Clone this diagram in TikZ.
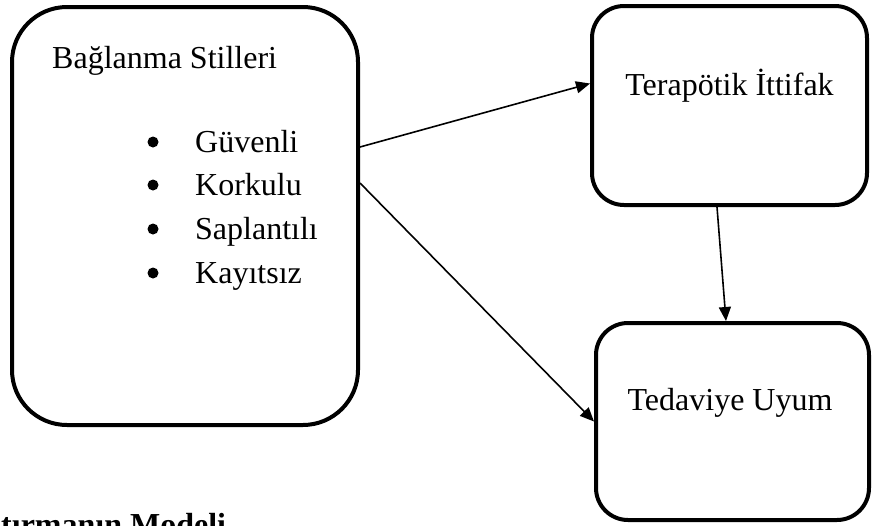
\documentclass[tikz,border=0pt]{standalone}
\usepackage{fontspec}
\setmainfont{Liberation Serif}
\usetikzlibrary{positioning,arrows.meta}
\tikzset{kutu/.style={draw,line width=4pt,minimum width=275pt,minimum height=199pt,inner sep=0pt,rounded corners=32pt}}
\tikzset{yazi/.style={inner sep=0pt,anchor=base west,font=\fontsize{32}{38}\selectfont}}
\tikzset{madde/.style={circle,fill,minimum size=11pt,inner sep=0pt}}

\begin{document}
\begin{tikzpicture}[x=1pt,y=-1pt,>={Triangle[length=14pt,width=12pt]}]
    \useasboundingbox (0,0) rectangle (873,525);

    \node[kutu,minimum width=346pt,minimum height=418pt,rounded corners=55pt] (bs) at (185,216) {};
    \node[kutu] (ti) at (729.5,105.5) {};
    \node[kutu,minimum width=273pt,minimum height=197pt] (tu) at (732.5,421.5) {};

    \node[yazi] (bsy) at (52,68) {Bağlanma Stilleri};
    \node[madde] (gm) at (153,142) {};
    \node[madde] (km) at (153,185) {};
    \node[madde] (sm) at (153,229) {};
    \node[madde] (kym) at (153,273) {};
    \node[yazi] (g) at (195,152) {Güvenli};
    \node[yazi] (k) at (195,195) {Korkulu};
    \node[yazi] (s) at (195,239) {Saplantılı};
    \node[yazi] (ky) at (195,283) {Kayıtsız};
    \node[yazi,anchor=base] (tiy) at (729.5,95) {Terapötik İttifak};
    \node[yazi,anchor=base] (tuy) at (730,410) {Tedaviye Uyum};
    \node[yazi,font=\fontsize{32}{38}\selectfont\bfseries] (alt) at (1,535) {tırmanın Modeli};

    \draw [->,line width=1.6pt] ([yshift=69pt]bs.east) to [] ([yshift=22pt]ti.west);
    \draw [->,line width=1.6pt] ([yshift=33pt]bs.east) to [] (tu.west);
    \draw [->,line width=1.6pt] ([xshift=-12.5pt]ti.south) to [] ([xshift=-6.5pt]tu.north);
\end{tikzpicture}
\end{document}
